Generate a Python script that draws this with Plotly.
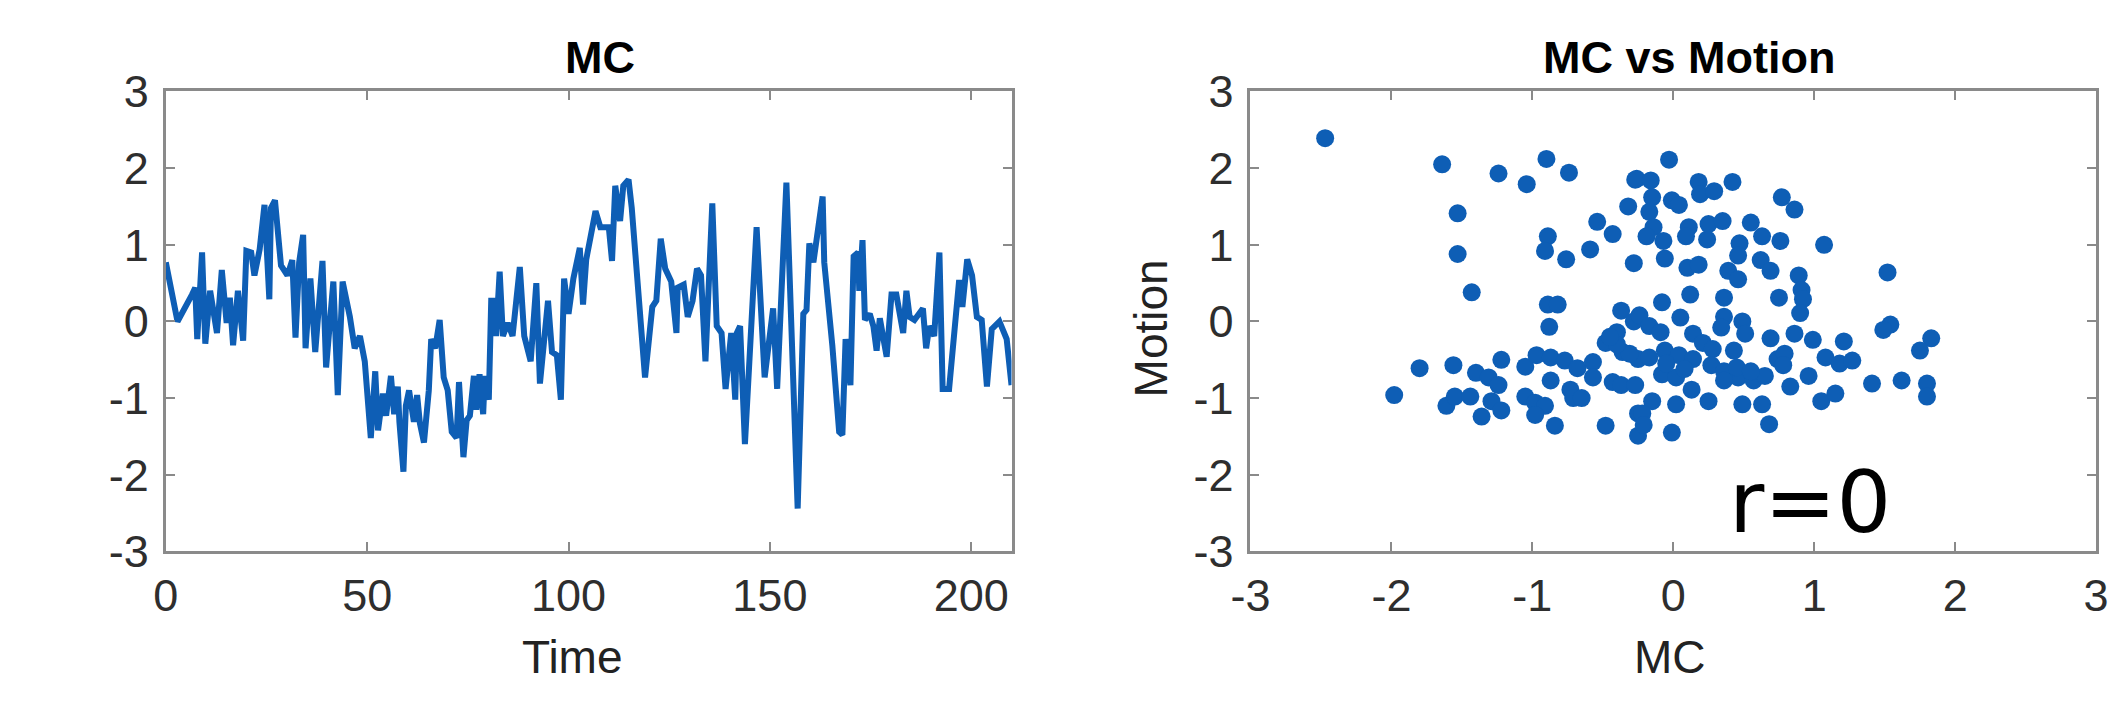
import plotly.graph_objects as go

# ---------------- data ----------------
time = [0, 2.4, 2.9, 6.5, 7.3, 7.8, 9.0, 9.8, 11.0, 12.7, 13.9, 15.1, 15.9, 16.7, 17.9, 19.2,
        20.0, 21.2, 22.0, 23.3, 24.5, 25.7, 26.1, 27.1, 28.6, 30.2, 31.4, 32.2, 33.1, 34.1,
        34.7, 35.9, 37.1, 38.9, 39.8, 41.6, 42.7, 43.9, 45.7, 46.9, 48.2, 49.4, 50.9, 52.0,
        52.7, 53.9, 54.7, 55.9, 56.7, 57.6, 58.0, 59.0, 59.6, 60.4, 61.6, 62.4, 63.1, 64.1,
        65.3, 65.9, 66.9, 68.0, 69.0, 70.0, 71.0, 72.2, 72.8, 73.9, 74.7, 75.5, 76.5, 77.1,
        77.9, 78.8, 79.2, 80.2, 80.8, 81.6, 82.0, 82.9, 83.7, 84.9, 86.1, 87.9, 89.0, 90.6,
        92.0, 92.9, 94.9, 95.9, 97.1, 98.1, 98.9, 100.0, 101.2, 102.8, 103.6, 104.4, 106.7,
        107.9, 110.0, 110.8, 111.6, 112.8, 113.6, 114.9, 115.7, 119.0, 120.8, 121.8, 122.9,
        124.0, 125.5, 126.8, 127.1, 128.6, 129.6, 130.8, 131.9, 132.9, 134.0, 135.7, 136.8,
        138.0, 139.0, 140.4, 141.4, 141.8, 142.6, 143.8, 146.7, 148.7, 150.8, 151.8, 154.1,
        156.9, 158.3, 159.1, 159.8, 160.8, 163.1, 163.5, 165.5, 167.2, 168.0, 168.8, 170.0,
        170.8, 171.9, 172.2, 173.0, 173.6, 174.8, 175.7, 176.5, 177.3, 179.0, 180.2, 181.4,
        183.1, 183.9, 184.7, 185.9, 188.0, 188.8, 189.6, 190.8, 192.1, 192.9, 194.5, 197.0,
        197.8, 199.0, 200.2, 201.4, 202.6, 203.9, 205.1, 207.0, 208.8, 210.0]
mc = [0.77, 0.10, 0.00, 0.35, 0.44, -0.23, 0.90, -0.29, 0.40, -0.15, 0.67, -0.02, 0.31, -0.31,
      0.40, -0.25, 0.92, 0.90, 0.60, 0.94, 1.52, 0.29, 1.48, 1.58, 0.73, 0.60, 0.80, -0.21,
      0.77, 1.13, -0.35, 0.56, -0.40, 0.79, -0.60, 0.52, -0.96, 0.52, 0.06, -0.35, -0.19,
      -0.52, -1.52, -0.65, -1.42, -0.94, -1.23, -0.71, -1.21, -0.85, -1.31, -1.96, -1.10,
      -0.90, -1.31, -0.96, -1.33, -1.58, -0.90, -0.23, -0.35, 0.02, -0.73, -0.90, -1.44,
      -1.52, -0.79, -1.77, -1.29, -1.23, -0.71, -1.15, -0.69, -1.21, -0.71, -1.02, 0.27,
      0.27, -0.19, 0.65, -0.19, -0.02, -0.19, 0.71, -0.19, -0.52, 0.50, -0.81, 0.27, -0.40,
      -0.44, -1.02, 0.56, 0.10, 0.56, 0.96, 0.22, 0.81, 1.44, 1.23, 1.23, 0.79, 1.77, 1.31,
      1.77, 1.85, 1.48, -0.73, 0.19, 0.27, 1.08, 0.69, 0.52, -0.15, 0.44, 0.48, 0.06, 0.27,
      0.69, 0.60, -0.52, 1.54, -0.06, -0.15, -0.88, -0.15, -1.02, -0.15, -0.06, -1.60, 1.23,
      -0.73, 0.17, -0.88, 1.81, -2.44, 0.10, 0.15, 1.02, 0.77, 1.63, 0.77, -0.31, -1.44,
      -1.48, -0.23, -0.83, 0.85, 0.90, 0.40, 1.06, 0.02, 0.10, -0.06, -0.38, 0.04, -0.46,
      0.35, 0.35, -0.15, 0.40, 0.06, 0.02, 0.17, -0.35, -0.06, -0.19, 0.90, -0.88, -0.88,
      0.54, 0.19, 0.81, 0.60, 0.06, 0.02, -0.85, -0.10, 0.00, -0.23, -0.83]

scatter_mc = [-2.47, -1.64, -1.24, -1.04, -0.90, -0.74, -0.27, -0.32, -1.53, -0.54, -0.43, -0.89,
              -0.91, -0.76, -0.59, -0.28, -1.53, -1.43, -0.89, -0.82, -0.88, -0.37, -0.40, -0.48,
              -0.36, -0.28, -1.80, -1.56, -1.22, -1.98, -1.40, -1.31, -1.24, -1.05, -0.97, -0.87,
              -0.77, -0.68, -0.57, -0.57, -0.43, -0.37, -0.87, -0.73, -0.71, -0.65, -1.61, -1.55,
              -1.44, -1.36, -1.29, -1.22, -1.05, -0.98, -0.91, -0.98, -0.84, -0.48, -0.25, -0.25,
              -0.25, -0.27,
              -0.03, -0.26, -0.16, -0.15, -0.17, -0.01, 0.04, 0.18, 0.19, 0.29, 0.42, 0.77, 0.86,
              -0.14, -0.19, -0.07, 0.11, 0.09, 0.24, 0.25, 0.35, 0.55, 0.63, 0.76, 1.07, -0.06,
              0.10, 0.18, 0.47, 0.46, 0.39, 0.46, 0.62, 0.69, 0.89, 0.91, 0.92, 0.90, 1.52, 0.75,
              0.12, 0.36, -0.08, 0.05, -0.24, -0.17, -0.09, 0.36, 0.34, 0.49, 0.51, 0.14, 0.21,
              0.28, 0.69, 0.86, 0.99, 1.21, 1.54, 1.49, 1.83, 1.75, -0.17, -0.06, 0.04, 0.14,
              -0.08, 0.02, -0.31, 0.43, 0.27, 0.36, 0.46, 0.57, 0.65, 0.36, 0.74, 0.79, 0.78,
              0.83, 0.96, 1.08, 1.18, 1.27, 1.41, 1.62, 1.80, 1.80, 1.05, 1.15, 0.13, 0.25, 0.02,
              0.49, 0.63, 0.68, -0.15, -0.22, -0.21, -0.01,
              -0.05, 0.08, 0.45, 0.55, -0.40, -0.45]
scatter_motion = [2.39, 2.05, 1.93, 1.79, 2.12, 1.94, 1.85, 1.50, 1.41, 1.30, 1.14, 1.11, 0.92,
                  0.81, 0.94, 0.76, 0.88, 0.38, 0.22, 0.22, -0.07, 0.14, -0.14, -0.28, -0.40,
                  0.00, -0.61, -0.57, -0.50, -0.96, -0.67, -0.73, -0.83, -0.59, -0.44, -0.47,
                  -0.51, -0.61, -0.53, -0.73, -0.79, -0.83, -0.77, -0.89, -1.00, -1.00, -1.10,
                  -0.98, -0.98, -1.24, -1.04, -1.16, -0.98, -1.06, -1.10, -1.22, -1.36, -1.36,
                  -1.49, -1.20, -0.49, -0.83,
                  2.11, 1.86, 1.84, 1.62, 1.43, 1.58, 1.52, 1.82, 1.66, 1.70, 1.82, 1.62, 1.46,
                  1.23, 1.11, 1.05, 1.23, 1.11, 1.07, 1.27, 1.31, 1.29, 1.11, 1.05, 1.00, 0.82,
                  0.70, 0.74, 1.02, 0.86, 0.66, 0.55, 0.80, 0.66, 0.60, 0.41, 0.29, 0.11, 0.64,
                  0.31, 0.35, 0.31, 0.25, 0.05, 0.08, -0.06, -0.14, 0.06, -0.08, 0.00, -0.16,
                  -0.16, -0.28, -0.36, -0.22, -0.16, -0.24, -0.26, -0.04, -0.11, -0.22, -0.38,
                  -0.47, -0.38, -0.44, -0.49, -0.69, -0.73, -0.42, -0.38, -0.57, -0.65, -0.73,
                  -0.77, -0.71, -0.77, -0.49, -0.42, -0.57, -0.85, -0.71, -0.47, -0.55, -0.51,
                  -0.81, -0.77, -0.81, -0.98, -1.04, -0.94, -0.89, -1.04, -1.08, -1.08, -1.08,
                  -1.34, -1.04, -1.20, -1.35, -1.45,
                  -0.55, -0.62, -0.60, -0.65, -0.30, -0.20]

time_ticks = [0, 50, 100, 150, 200]
time_tick_text = ["0", "50", "100", "150", "200"]
unit_ticks = [-3, -2, -1, 0, 1, 2, 3]
unit_tick_text = ["-3", "-2", "-1", "0", "1", "2", "3"]

# ---------------- styling ----------------
W, H = 2128, 708
BLUE = "#0E5EB5"
AXIS_GRAY = "#8a8a8a"
SANS = "Liberation Sans, Arial, Helvetica, sans-serif"
TICK_FONT = dict(family=SANS, size=45, color="#2e2e2e")

fig = go.Figure()
fig.add_trace(go.Scatter(x=time, y=mc, mode="lines",
                         line=dict(color=BLUE, width=6), xaxis="x", yaxis="y",
                         showlegend=False, hoverinfo="skip"))
fig.add_trace(go.Scatter(x=scatter_mc, y=scatter_motion, mode="markers",
                         marker=dict(color=BLUE, size=18, line=dict(width=0)),
                         xaxis="x2", yaxis="y2", showlegend=False, hoverinfo="skip"))


def axis_style(**kw):
    d = dict(showline=True, linecolor=AXIS_GRAY, linewidth=3, mirror="ticks",
             ticks="inside", ticklen=9, tickwidth=2, tickcolor=AXIS_GRAY,
             showgrid=False, zeroline=False, tickfont=TICK_FONT, fixedrange=True)
    d.update(kw)
    return d


y_dom = [1 - 558.7 / H, 1 - 63 / H]
fig.update_layout(
    width=W, height=H,
    margin=dict(l=0, r=0, t=0, b=0),
    paper_bgcolor="white", plot_bgcolor="white",
    xaxis=axis_style(domain=[140 / W, 999 / W], range=[0, 210], tickvals=time_ticks,
                     ticktext=time_tick_text, anchor="y", ticklabelstandoff=3),
    yaxis=axis_style(domain=y_dom, range=[-3, 3], tickvals=unit_ticks,
                     ticktext=unit_tick_text, anchor="x", ticklabelstandoff=5),
    xaxis2=axis_style(domain=[1241.7 / W, 2100.7 / W], range=[-3, 3], tickvals=unit_ticks,
                      ticktext=unit_tick_text, anchor="y2", ticklabelstandoff=3),
    yaxis2=axis_style(domain=y_dom, range=[-3, 3], tickvals=unit_ticks,
                      ticktext=unit_tick_text, anchor="x2", ticklabelstandoff=5),
)

title_font = dict(family=SANS, size=45, color="black")
label_font = dict(family=SANS, size=46, color="#222222")
ann = [
    dict(text="<b>MC</b>", x=581 / W, y=1 - 26 / H, font=title_font),
    dict(text="<b>MC vs Motion</b>", x=1687 / W, y=1 - 26 / H, font=title_font),
    dict(text="Time", x=553 / W, y=1 - 672 / H, font=label_font),
    dict(text="MC", x=1668 / W, y=1 - 672 / H, font=label_font),
    dict(text="Motion", x=1141 / W, y=1 - 318 / H, font=label_font, textangle=-90),
]
for a in ann:
    fig.add_annotation(xref="paper", yref="paper", showarrow=False,
                       xanchor="center", yanchor="middle", **a)
fig.add_annotation(text="r=0", xref="x2", yref="y2", x=0.97, y=-2.35, showarrow=False,
                   xanchor="center", yanchor="middle",
                   font=dict(family="DejaVu Sans", size=86, color="black"))

fig.write_html("out.html")
